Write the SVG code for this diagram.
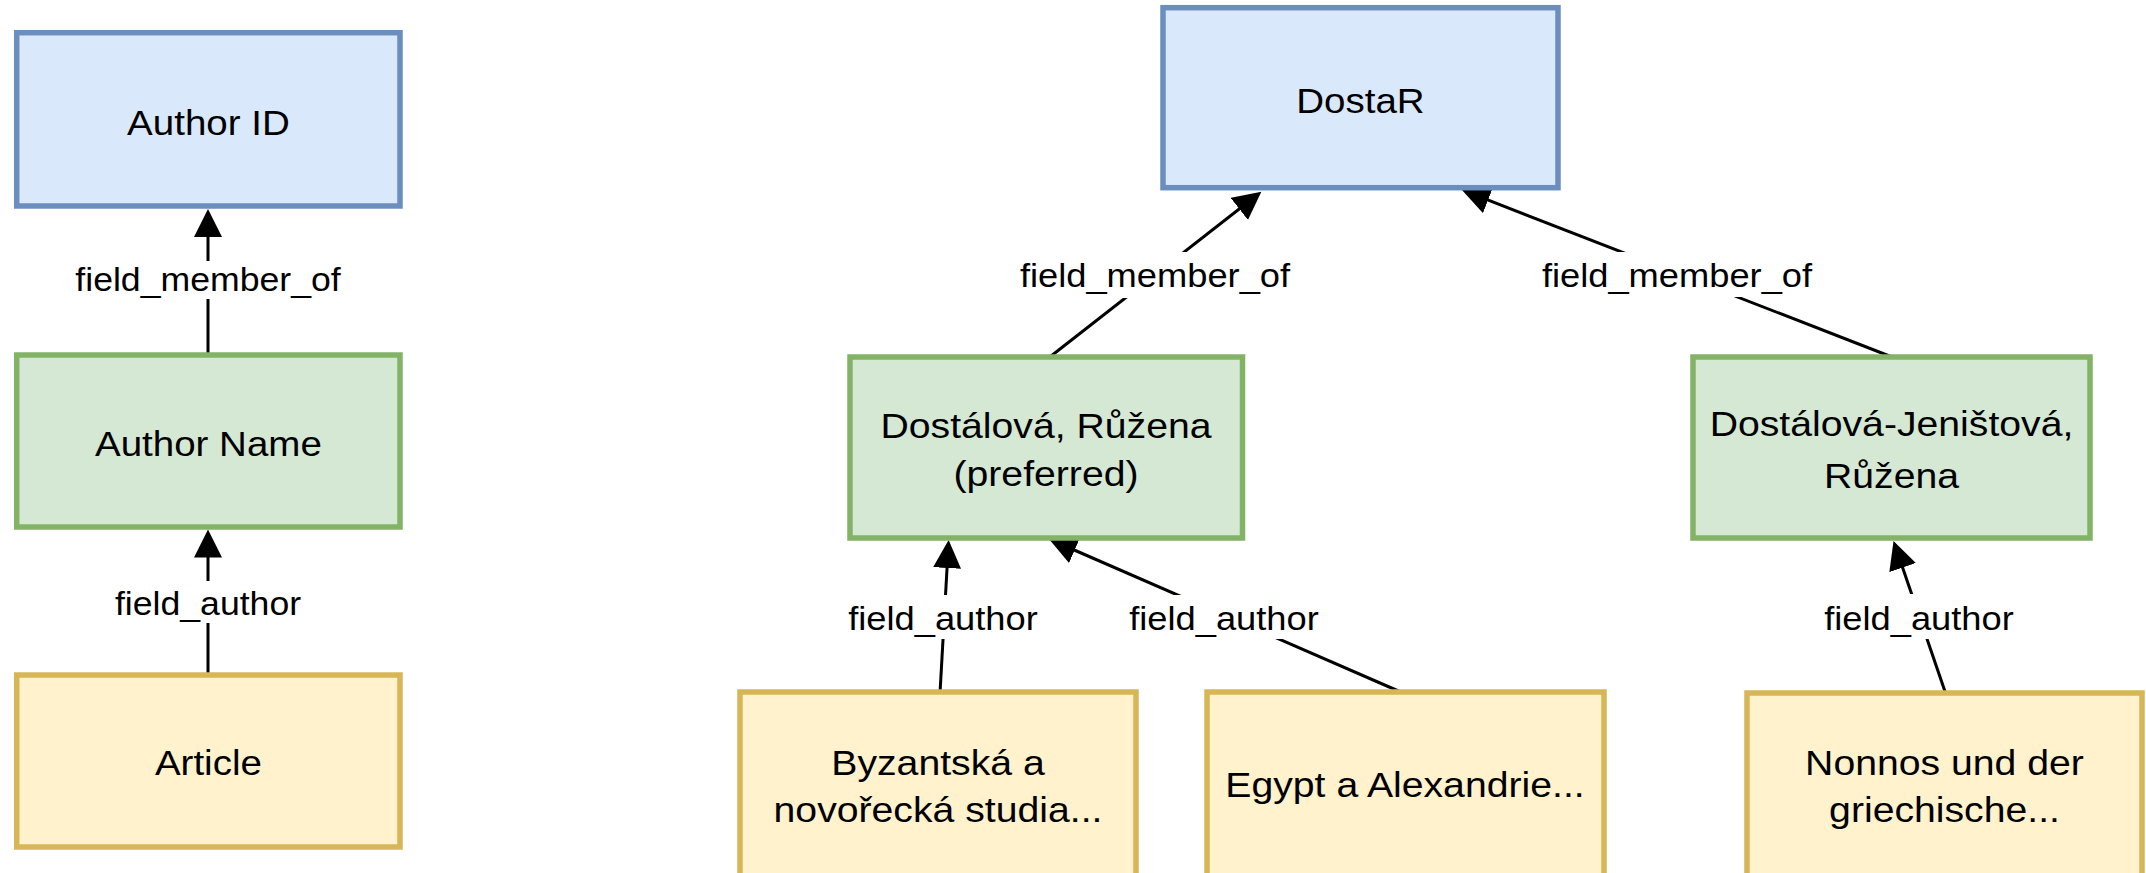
<svg xmlns="http://www.w3.org/2000/svg" width="2146" height="873" viewBox="0 0 2146 873">
<style>
.blue{fill:#dae8fc;stroke:#6c8ebf;stroke-width:5.5}
.green{fill:#d5e8d4;stroke:#82b366;stroke-width:5.5}
.yellow{fill:#fff2cc;stroke:#d6b656;stroke-width:5.5}
.nt{font-family:"Liberation Sans",Arial,sans-serif;font-size:35px;fill:#000;text-anchor:middle}
.lt{font-family:"Liberation Sans",Arial,sans-serif;font-size:33px;fill:#000;text-anchor:middle}
.edge{fill:none;stroke:#000;stroke-width:3}
.lbg{fill:#fff;stroke:none}
</style>
<defs>
<marker id="arrow" markerUnits="userSpaceOnUse" markerWidth="30" markerHeight="30" viewBox="0 0 30 30" refX="8" refY="14" orient="auto">
<path d="M0,0 L28,14 L0,28 z" fill="#000"/>
</marker>
</defs>
<rect width="2146" height="873" fill="#fff"/>
<g id="connectors">
<path class="edge" d="M208,355 L208,229" marker-end="url(#arrow)"/>
<path class="edge" d="M208,675 L208,549.5" marker-end="url(#arrow)"/>
<path class="edge" d="M1048.5,358 L1245.6,204" marker-end="url(#arrow)"/>
<path class="edge" d="M1892,357 L1480.6,197.2" marker-end="url(#arrow)"/>
<path class="edge" d="M940,693 L947.5,560" marker-end="url(#arrow)"/>
<path class="edge" d="M1403,693 L1067.3,547" marker-end="url(#arrow)"/>
<path class="edge" d="M1945.7,693.6 L1900,560" marker-end="url(#arrow)"/>
<rect class="lbg" x="74" y="261" width="268" height="38"/>
<text class="lt" transform="translate(208,0) scale(1.08,1)"><tspan x="0" y="291">field_member_of</tspan></text>
<rect class="lbg" x="115" y="581" width="186" height="42"/>
<text class="lt" transform="translate(208,0) scale(1.08,1)"><tspan x="0" y="615">field_author</tspan></text>
<rect class="lbg" x="1020" y="252" width="270" height="46"/>
<text class="lt" transform="translate(1155,0) scale(1.1,1)"><tspan x="0" y="287.5">field_member_of</tspan></text>
<rect class="lbg" x="1542" y="252" width="270" height="45"/>
<text class="lt" transform="translate(1677,0) scale(1.1,1)"><tspan x="0" y="287.5">field_member_of</tspan></text>
<rect class="lbg" x="848" y="595" width="190" height="44"/>
<text class="lt" transform="translate(943,0) scale(1.1,1)"><tspan x="0" y="630">field_author</tspan></text>
<rect class="lbg" x="1129" y="595" width="190" height="44"/>
<text class="lt" transform="translate(1224,0) scale(1.1,1)"><tspan x="0" y="630">field_author</tspan></text>
<rect class="lbg" x="1824" y="594" width="190" height="45"/>
<text class="lt" transform="translate(1919,0) scale(1.1,1)"><tspan x="0" y="630">field_author</tspan></text>
</g>
<g id="author-id">
<rect class="blue" x="16.7" y="32.7" width="383.3" height="173.3"/>
<text class="nt" transform="translate(208.4,0) scale(1.1,1)"><tspan x="0" y="135">Author ID</tspan></text>
</g>
<g id="author-name">
<rect class="green" x="16.7" y="355" width="383.3" height="172"/>
<text class="nt" transform="translate(208.4,0) scale(1.1,1)"><tspan x="0" y="456">Author Name</tspan></text>
</g>
<g id="article">
<rect class="yellow" x="16.7" y="675" width="383.3" height="172"/>
<text class="nt" transform="translate(208.4,0) scale(1.1,1)"><tspan x="0" y="775">Article</tspan></text>
</g>
<g id="dostar">
<rect class="blue" x="1163" y="7.7" width="395" height="180"/>
<text class="nt" transform="translate(1360.5,0) scale(1.1,1)"><tspan x="0" y="112.7">DostaR</tspan></text>
</g>
<g id="dostalova-preferred">
<rect class="green" x="850" y="357" width="392.5" height="181"/>
<text class="nt" transform="translate(1046,0) scale(1.12,1)"><tspan x="0" y="438">Dostálová, Růžena</tspan><tspan x="0" y="486">(preferred)</tspan></text>
</g>
<g id="dostalova-jenistova">
<rect class="green" x="1693" y="357" width="397" height="181"/>
<text class="nt" transform="translate(1891.5,0) scale(1.12,1)"><tspan x="0" y="436">Dostálová-Jeništová,</tspan><tspan x="0" y="488">Růžena</tspan></text>
</g>
<g id="byzantska">
<rect class="yellow" x="740" y="692" width="396" height="190"/>
<text class="nt" transform="translate(938,0) scale(1.12,1)"><tspan x="0" y="775">Byzantská a</tspan><tspan x="0" y="822">novořecká studia...</tspan></text>
</g>
<g id="egypt">
<rect class="yellow" x="1207" y="692" width="397" height="190"/>
<text class="nt" transform="translate(1405,0) scale(1.12,1)"><tspan x="0" y="797">Egypt a Alexandrie...</tspan></text>
</g>
<g id="nonnos">
<rect class="yellow" x="1747" y="693" width="395" height="190"/>
<text class="nt" transform="translate(1944.5,0) scale(1.12,1)"><tspan x="0" y="775">Nonnos und der</tspan><tspan x="0" y="822">griechische...</tspan></text>
</g>
</svg>
